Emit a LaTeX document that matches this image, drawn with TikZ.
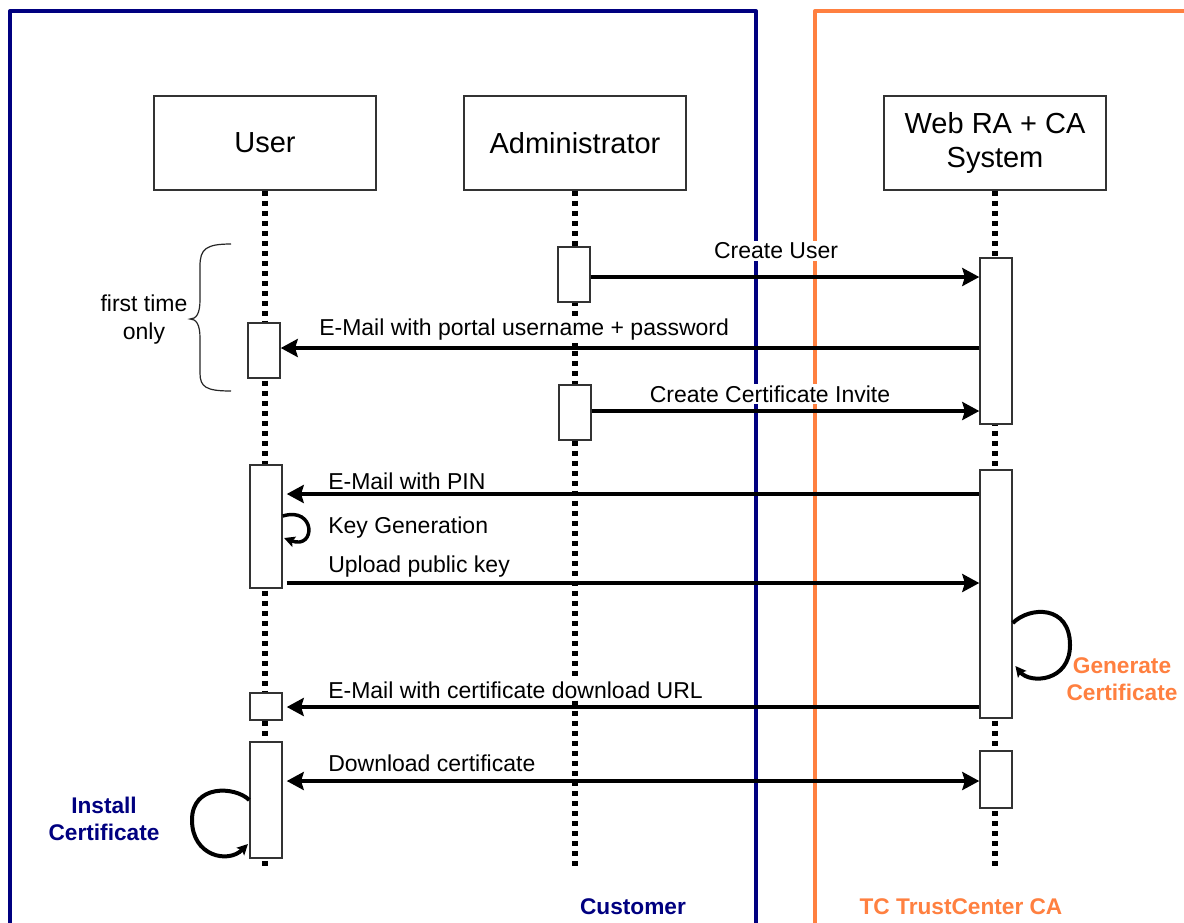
\documentclass[tikz,border=0pt]{standalone}
\usepackage{fontspec}
\setmainfont{Liberation Sans}
\usetikzlibrary{arrows.meta}
\definecolor{cblue}{RGB}{0,0,128}
\definecolor{corange}{RGB}{255,128,64}
\begin{document}
\begin{tikzpicture}[x=0.75pt,y=-0.75pt,
  frameline/.style={line width=3pt, line join=round},
  head/.style={draw=black!80, line width=1.1pt, fill=white, minimum width=166.5pt, minimum height=70.5pt, inner sep=0pt, align=center, font=\fontsize{21.75}{25.5}\selectfont},
  life/.style={line width=4pt, dash pattern=on 3.75pt off 3.75pt},
  act/.style={draw=black!80, line width=1.1pt, fill=white, minimum width=24pt, inner sep=0pt},
  msg/.style={line width=3pt, -{Stealth[length=12.75pt,width=13.5pt,inset=2pt]}},
  dmsg/.style={line width=3pt, {Stealth[length=12.75pt,width=13.5pt,inset=2pt]}-{Stealth[length=12.75pt,width=13.5pt,inset=2pt]}},
  selfloop/.style={line width=2.6pt, -{Stealth[length=8pt,width=8pt,inset=1.5pt]}},
  lbl/.style={fill=white, inner sep=1.5pt, font=\fontsize{17.25}{20}\selectfont},
  note/.style={align=center, inner sep=1pt, font=\fontsize{17.25}{21}\selectfont},
  boldlbl/.style={align=center, inner sep=1pt, font=\bfseries\fontsize{17}{20}\selectfont}
]
\clip (0,0) rectangle (1184,922);
\fill[white] (0,0) rectangle (1184,922);

% frames
\draw[frameline, cblue] (10,940) -- (10,11) -- (756,11) -- (756,940);
\draw[frameline, corange] (815,940) -- (815,11) -- (1200,11);

% participants
\node[head] (user) at (265,143) {User};
\node[head] (admin) at (575,143) {Administrator};
\node[head] (web) at (995,143) {Web RA + CA\\System};

% lifelines
\coordinate (uend) at (265,866);
\coordinate (aend) at (575,866);
\coordinate (wend) at (995,866);
\draw[life] (user.south) -- (uend);
\draw[life] (admin.south) -- (aend);
\draw[life] (web.south) -- (wend);

% activation boxes
\node[act, minimum height=41.25pt] (a1) at (574,274.5) {};
\node[act, minimum height=41.25pt] (a2) at (575,412.5) {};
\node[act, minimum height=41.25pt] (u1) at (264,350.5) {};
\node[act, minimum height=124.5pt] (w1) at (996,341) {};
\node[act, minimum height=92.25pt] (u2) at (266,526.5) {};
\node[act, minimum height=186pt] (w2) at (996,594) {};
\node[act, minimum height=20.25pt] (u3) at (266,706.5) {};
\node[act, minimum height=87pt] (u4) at (266,800) {};
\node[act, minimum height=42.75pt] (w3) at (996,779.5) {};

% messages
\draw[msg] (a1.east |- 0,277) -- (w1.west |- 0,277);
\draw[msg] (w1.west |- 0,348) -- (u1.east |- 0,348);
\draw[msg] (a2.east |- 0,411) -- (w1.west |- 0,411);
\draw[msg] (w2.west |- 0,494) -- ([xshift=3pt]u2.east |- 0,494);
\draw[msg] ([xshift=3pt]u2.east |- 0,583) -- (w2.west |- 0,583);
\draw[msg] (w2.west |- 0,707) -- ([xshift=3pt]u3.east |- 0,707);
\draw[dmsg] ([xshift=3pt]u4.east |- 0,781) -- (w3.west |- 0,781);

% self loops
\draw[selfloop] (u2.east |- 0,516) .. controls (316,506) and (316,550) .. ([xshift=1pt]u2.east |- 0,538);
\draw[selfloop, line width=3pt] (w2.east |- 0,623) .. controls (1030,606) and (1070,605) .. (1070,645) .. controls (1070,682) and (1030,684) .. ([xshift=2pt]w2.east |- 0,666);
\draw[selfloop, line width=3pt] (u4.west |- 0,800) .. controls (235,786) and (192,784) .. (192,820) .. controls (192,856) and (228,864) .. ([xshift=-1pt]u4.west |- 0,844);

% message labels
\node[lbl] (l1) at (776,251) {Create User};
\node[lbl, anchor=west] (l2) at (317,330) {E-Mail with portal username + password};
\node[lbl] (l3) at (770,394) {Create Certificate Invite};
\node[lbl, anchor=west] (l4) at (326,481) {E-Mail with PIN};
\node[lbl, anchor=west, fill=none] (l5) at (326,528) {Key Generation};
\node[lbl, anchor=west] (l6) at (326,567) {Upload public key};
\node[lbl, anchor=west] (l7) at (326,690) {E-Mail with certificate download URL};
\node[lbl, anchor=west] (l8) at (326,763) {Download certificate};

% brace
\draw[line width=0.9pt, black!85] (231,244) .. controls (206,244) and (200,249) .. (200,266) -- (200,300) .. controls (200,314) and (196,319) .. (190,319) .. controls (196,319) and (200,324) .. (200,338) -- (200,373) .. controls (200,387) and (206,391) .. (231,391);
\node[note] (first) at (144,320) {first time\\only};

% side notes
\node[boldlbl, text=corange] (gen) at (1122,679) {Generate\\Certificate};
\node[boldlbl, text=cblue] (inst) at (104,819) {Install\\Certificate};

% domain labels
\node[boldlbl, text=cblue] (cust) at (633,907) {Customer};
\node[boldlbl, text=corange] (tc) at (961,907) {TC TrustCenter CA};
\end{tikzpicture}
\end{document}
